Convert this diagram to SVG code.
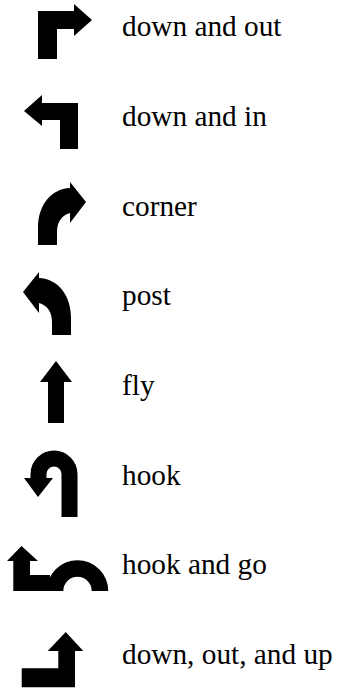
<svg xmlns="http://www.w3.org/2000/svg" width="337" height="690" viewBox="0 0 337 690">
<style>
.ic{fill:#000;stroke:none}
.lb{font-family:"Liberation Serif","Times New Roman",serif;font-size:29.3px;fill:#000}
</style>
<rect width="337" height="690" fill="#fff"/>
<g id="down-and-out">
<polygon class="ic" points="38,11 74,11 74,4 92,20 74,36 74,29 57,29 57,59 38,59"/>
<text class="lb" x="122" y="36">down and out</text>
</g>
<g id="down-and-in">
<polygon class="ic" points="78,103 78,149 60,149 60,120 42,120 42,126 24,111 42,95 42,103"/>
<text class="lb" x="122" y="126">down and in</text>
</g>
<g id="corner">
<path class="ic" d="M38,245 L38,228 C38,205 51,189 70,188 L70,182 L86,202 L70,223 L70,213 C62,215 57,222 57,232 L57,245 Z"/>
<text class="lb" x="122" y="215.5">corner</text>
</g>
<g id="post">
<path class="ic" transform="translate(109,90) scale(-1,1)" d="M38,245 L38,228 C38,205 51,189 70,188 L70,182 L86,202 L70,223 L70,213 C62,215 57,222 57,232 L57,245 Z"/>
<text class="lb" x="122" y="305">post</text>
</g>
<g id="fly">
<polygon class="ic" points="56,361 72,382 64,382 64,423 48,423 48,382 40,382"/>
<text class="lb" x="122" y="395">fly</text>
</g>
<g id="hook">
<path d="M69.5,517 V474 A15.5,15.5 0 0 0 38.5,474 V479" fill="none" stroke="#000" stroke-width="16"/>
<polygon class="ic" points="24,478 53,478 38,497"/>
<text class="lb" x="122" y="484.5">hook</text>
</g>
<g id="hook-and-go">
<polygon class="ic" points="21.5,546 38,561 30,561 30,575 50,575 50,591 13.3,591 13.3,561 7,561"/>
<path class="ic" d="M46.7,591 A30.8,30.8 0 0 1 108.3,591 L91.7,591 A14.2,14.2 0 0 0 63.3,591 Z"/>
<text class="lb" x="122" y="574">hook and go</text>
</g>
<g id="down-out-and-up">
<polygon class="ic" points="65.7,632 83.3,651 75,651 75,687.3 21.7,687.3 21.7,668.3 58.3,668.3 58.3,651 47.7,651"/>
<text class="lb" x="122" y="664">down, out, and up</text>
</g>
<g id="connectors"/>
</svg>
